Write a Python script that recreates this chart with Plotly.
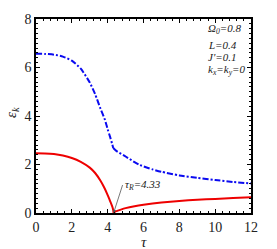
import plotly.graph_objects as go

tau_R = 4.33

# Red solid curve: branch below tau_R and branch above tau_R
tau_red_a = [0, 0.5, 1.0, 1.5, 2.0, 2.5, 3.0, 3.3, 3.6, 3.8, 4.0, 4.1, 4.2, 4.27, 4.31, 4.33]
eps_red_a = [2.46, 2.455, 2.43, 2.37, 2.27, 2.11, 1.87, 1.65, 1.33, 1.06, 0.74, 0.56, 0.38, 0.24, 0.12, 0.0]
tau_red_b = [4.33, 4.4, 4.5, 4.7, 5.0, 5.5, 6.0, 7.0, 8.0, 9.0, 10.0, 11.0, 12.0]
eps_red_b = [0.0, 0.05, 0.08, 0.13, 0.20, 0.28, 0.34, 0.43, 0.50, 0.55, 0.58, 0.62, 0.65]

# Blue dash-dot curve
tau_blue_a = [0, 0.5, 1.0, 1.5, 2.0, 2.5, 3.0, 3.3, 3.6, 3.85, 4.0, 4.13, 4.25, 4.31]
eps_blue_a = [6.57, 6.56, 6.53, 6.45, 6.28, 5.95, 5.38, 4.90, 4.30, 3.84, 3.45, 3.15, 2.85, 2.68]
tau_blue_b = [4.31, 4.5, 5.0, 5.5, 5.8, 6.5, 7.0, 8.0, 9.0, 10.0, 11.0, 12.0]
eps_blue_b = [2.68, 2.55, 2.33, 2.10, 1.98, 1.80, 1.70, 1.55, 1.45, 1.36, 1.28, 1.22]

params = ["Ω<sub>0</sub>=0.8", "L=0.4", "J'=0.1", "k<sub>x</sub>=k<sub>y</sub>=0"]
params_y = [29, 45, 57, 70]

fig = go.Figure()
blue_line = dict(color="#0a0af0", width=2, dash="6px,2px,2px,2px", shape="spline", smoothing=0.6)
red_line = dict(color="#ee0000", width=2, shape="spline", smoothing=0.6)
fig.add_trace(go.Scatter(x=tau_blue_a, y=eps_blue_a, mode="lines", line=blue_line))
fig.add_trace(go.Scatter(x=tau_blue_b, y=eps_blue_b, mode="lines", line=blue_line))
fig.add_trace(go.Scatter(x=tau_red_a, y=eps_red_a, mode="lines", line=red_line))
fig.add_trace(go.Scatter(x=tau_red_b, y=eps_red_b, mode="lines", line=red_line))

W, H = 277, 249
ml, mr, mt, mb = 36, 26, 19, 36
pw, ph = W - ml - mr, H - mt - mb

font = "Times New Roman, Liberation Serif, serif"
axis_common = dict(showline=True, linecolor="black", linewidth=1.5, mirror="allticks",
                   ticks="inside", ticklen=4, tickwidth=1, tickcolor="black",
                   showgrid=False, zeroline=False,
                   tickfont=dict(family=font, size=14, color="#222"))

fig.update_layout(
    width=W, height=H, margin=dict(l=ml, r=mr, t=mt, b=mb),
    paper_bgcolor="white", plot_bgcolor="white", showlegend=False,
    font=dict(family=font),
    xaxis=dict(range=[0, 12], tickvals=[0, 2, 4, 6, 8, 10, 12],
               minor=dict(dtick=0.4, ticks="inside", ticklen=2, tickcolor="black"),
               **axis_common),
    yaxis=dict(range=[0, 8], tickvals=[0, 2, 4, 6, 8],
               minor=dict(dtick=0.2, ticks="inside", ticklen=2, tickcolor="black"),
               **axis_common),
)

# axis titles
fig.add_annotation(text="<i>τ</i>", xref="paper", yref="paper", x=0.5, y=-(242 - mt - ph) / ph,
                   showarrow=False, font=dict(family=font, size=15, color="#222"),
                   xanchor="center", yanchor="middle")
fig.add_annotation(text="<i>ε<sub>k</sub></i>", xref="paper", yref="paper", x=-(ml - 12) / pw,
                   y=(mt + ph - 113) / ph,
                   showarrow=False, textangle=-90, font=dict(family=font, size=15, color="#222"),
                   xanchor="center", yanchor="middle")

# parameter labels
for t, yy in zip(params, params_y):
    fig.add_annotation(text="<i>" + t + "</i>", xref="paper", yref="paper",
                       x=(206 - ml) / pw, y=(mt + ph - yy) / ph, showarrow=False,
                       xanchor="left", yanchor="middle",
                       font=dict(family=font, size=11, color="#222"))

# tau_R annotation
fig.add_annotation(text="<i>τ<sub>R</sub>=%.2f</i>" % tau_R, x=tau_R, y=0, xref="x", yref="y",
                   ax=9, ay=-28, showarrow=True, arrowhead=2, arrowsize=0.8, arrowwidth=0.8,
                   arrowcolor="#555", font=dict(family=font, size=11, color="#222"),
                   xanchor="left")

fig.write_html("out.html", config={"displayModeBar": False})
with open("out.html", encoding="utf-8") as f:
    html = f.read()
html = html.replace("<head>", "<head><style>html,body{margin:0;padding:0;}</style>", 1)
with open("out.html", "w", encoding="utf-8") as f:
    f.write(html)
